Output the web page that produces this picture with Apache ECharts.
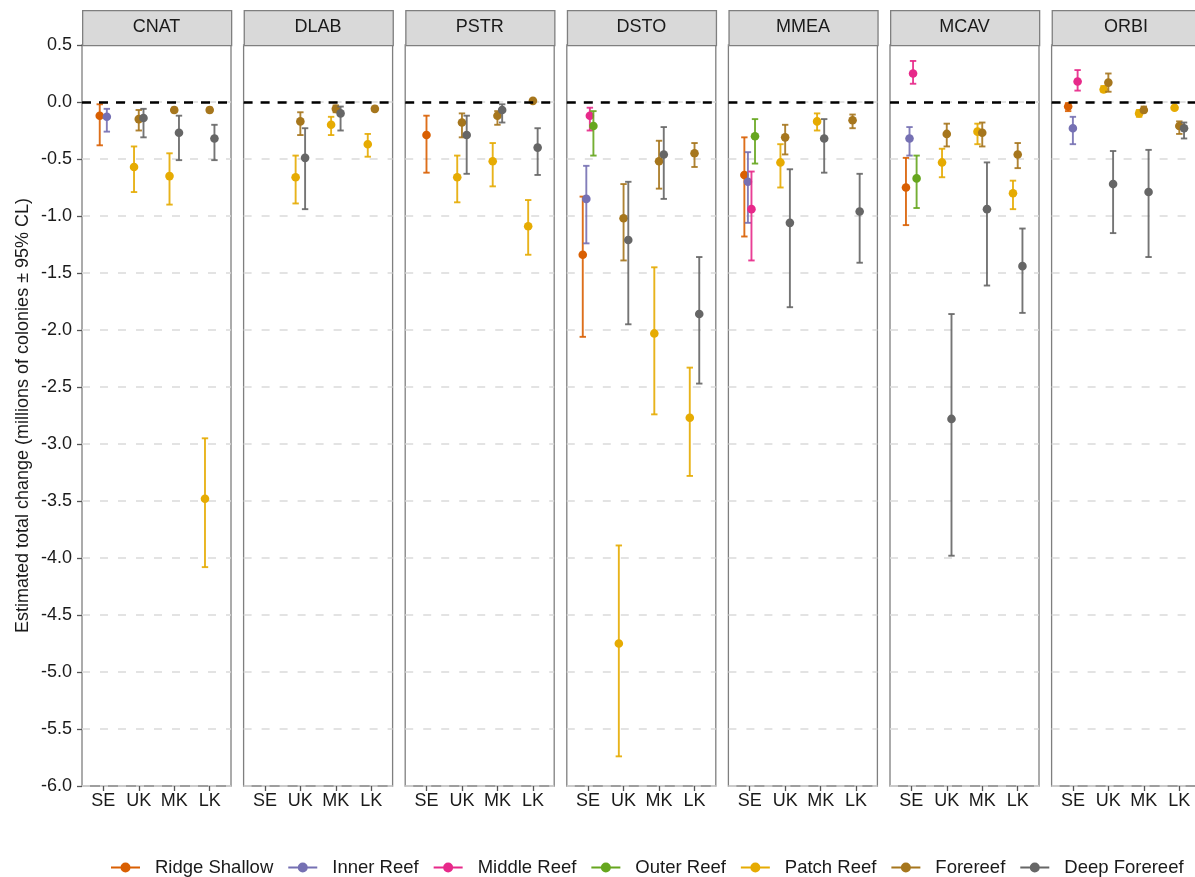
<!DOCTYPE html>
<html>
<head>
<meta charset="utf-8">
<script src="https://cdn.jsdelivr.net/npm/echarts@6/dist/echarts.min.js"></script>
<style>html,body{margin:0;padding:0;background:#fff;}#chart{width:1195px;height:877px;}</style>
</head>
<body>
<div id="chart"></div>
<script>
const sites = ['SE', 'UK', 'MK', 'LK'];
const reefTypes = ['Ridge Shallow', 'Inner Reef', 'Middle Reef', 'Outer Reef', 'Patch Reef', 'Forereef', 'Deep Forereef'];
const reefColors = ['#D95F02', '#7570B3', '#E7298A', '#66A61E', '#E6AB02', '#A6761D', '#666666'];
const species = ['CNAT', 'DLAB', 'PSTR', 'DSTO', 'MMEA', 'MCAV', 'ORBI'];

// [site, reef type, estimate, lower 95% CL, upper 95% CL]
const CNAT = [
  ['SE', 'Ridge Shallow', -0.12, -0.38, -0.02],
  ['SE', 'Inner Reef', -0.13, -0.26, -0.06],
  ['UK', 'Patch Reef', -0.57, -0.79, -0.39],
  ['UK', 'Forereef', -0.15, -0.25, -0.07],
  ['UK', 'Deep Forereef', -0.14, -0.31, -0.06],
  ['MK', 'Patch Reef', -0.65, -0.90, -0.45],
  ['MK', 'Forereef', -0.07, -0.09, -0.05],
  ['MK', 'Deep Forereef', -0.27, -0.51, -0.12],
  ['LK', 'Patch Reef', -3.48, -4.08, -2.95],
  ['LK', 'Forereef', -0.07, -0.09, -0.05],
  ['LK', 'Deep Forereef', -0.32, -0.51, -0.20]
];
const DLAB = [
  ['UK', 'Patch Reef', -0.66, -0.89, -0.47],
  ['UK', 'Forereef', -0.17, -0.29, -0.09],
  ['UK', 'Deep Forereef', -0.49, -0.94, -0.23],
  ['MK', 'Patch Reef', -0.20, -0.29, -0.13],
  ['MK', 'Forereef', -0.06, -0.09, -0.03],
  ['MK', 'Deep Forereef', -0.10, -0.25, -0.04],
  ['LK', 'Patch Reef', -0.37, -0.48, -0.28],
  ['LK', 'Forereef', -0.06, -0.08, -0.04]
];
const PSTR = [
  ['SE', 'Ridge Shallow', -0.29, -0.62, -0.12],
  ['UK', 'Patch Reef', -0.66, -0.88, -0.47],
  ['UK', 'Forereef', -0.18, -0.31, -0.10],
  ['UK', 'Deep Forereef', -0.29, -0.63, -0.12],
  ['MK', 'Patch Reef', -0.52, -0.74, -0.36],
  ['MK', 'Forereef', -0.12, -0.20, -0.08],
  ['MK', 'Deep Forereef', -0.07, -0.18, -0.02],
  ['LK', 'Patch Reef', -1.09, -1.34, -0.86],
  ['LK', 'Forereef', 0.01, 0.00, 0.02],
  ['LK', 'Deep Forereef', -0.40, -0.64, -0.23]
];
const DSTO = [
  ['SE', 'Ridge Shallow', -1.34, -2.06, -0.83],
  ['SE', 'Inner Reef', -0.85, -1.24, -0.56],
  ['SE', 'Middle Reef', -0.12, -0.25, -0.05],
  ['SE', 'Outer Reef', -0.21, -0.47, -0.08],
  ['UK', 'Patch Reef', -4.75, -5.74, -3.89],
  ['UK', 'Forereef', -1.02, -1.39, -0.72],
  ['UK', 'Deep Forereef', -1.21, -1.95, -0.70],
  ['MK', 'Patch Reef', -2.03, -2.74, -1.45],
  ['MK', 'Forereef', -0.52, -0.76, -0.34],
  ['MK', 'Deep Forereef', -0.46, -0.85, -0.22],
  ['LK', 'Patch Reef', -2.77, -3.28, -2.33],
  ['LK', 'Forereef', -0.45, -0.57, -0.36],
  ['LK', 'Deep Forereef', -1.86, -2.47, -1.36]
];
const MMEA = [
  ['SE', 'Ridge Shallow', -0.64, -1.18, -0.31],
  ['SE', 'Inner Reef', -0.70, -1.06, -0.44],
  ['SE', 'Middle Reef', -0.94, -1.39, -0.61],
  ['SE', 'Outer Reef', -0.30, -0.54, -0.15],
  ['UK', 'Patch Reef', -0.53, -0.75, -0.37],
  ['UK', 'Forereef', -0.31, -0.46, -0.20],
  ['UK', 'Deep Forereef', -1.06, -1.80, -0.59],
  ['MK', 'Patch Reef', -0.17, -0.25, -0.10],
  ['MK', 'Deep Forereef', -0.32, -0.62, -0.15],
  ['LK', 'Forereef', -0.16, -0.23, -0.11],
  ['LK', 'Deep Forereef', -0.96, -1.41, -0.63]
];
const MCAV = [
  ['SE', 'Ridge Shallow', -0.75, -1.08, -0.49],
  ['SE', 'Inner Reef', -0.32, -0.47, -0.22],
  ['SE', 'Middle Reef', 0.25, 0.16, 0.36],
  ['SE', 'Outer Reef', -0.67, -0.93, -0.47],
  ['UK', 'Patch Reef', -0.53, -0.66, -0.41],
  ['UK', 'Forereef', -0.28, -0.39, -0.19],
  ['UK', 'Deep Forereef', -2.78, -3.98, -1.86],
  ['MK', 'Patch Reef', -0.26, -0.37, -0.19],
  ['MK', 'Forereef', -0.27, -0.39, -0.18],
  ['MK', 'Deep Forereef', -0.94, -1.61, -0.53],
  ['LK', 'Patch Reef', -0.80, -0.94, -0.69],
  ['LK', 'Forereef', -0.46, -0.58, -0.36],
  ['LK', 'Deep Forereef', -1.44, -1.85, -1.11]
];
const ORBI = [
  ['SE', 'Ridge Shallow', -0.04, -0.08, -0.01],
  ['SE', 'Inner Reef', -0.23, -0.37, -0.13],
  ['SE', 'Middle Reef', 0.18, 0.10, 0.28],
  ['UK', 'Patch Reef', 0.11, 0.09, 0.14],
  ['UK', 'Forereef', 0.17, 0.09, 0.25],
  ['UK', 'Deep Forereef', -0.72, -1.15, -0.43],
  ['MK', 'Patch Reef', -0.10, -0.13, -0.07],
  ['MK', 'Forereef', -0.07, -0.09, -0.04],
  ['MK', 'Deep Forereef', -0.79, -1.36, -0.42],
  ['LK', 'Patch Reef', -0.05, -0.06, -0.04],
  ['LK', 'Forereef', -0.21, -0.28, -0.17],
  ['LK', 'Deep Forereef', -0.23, -0.32, -0.18]
];
const panelData = { CNAT, DLAB, PSTR, DSTO, MMEA, MCAV, ORBI };

// ---- layout ----
const FONT = '"Liberation Sans", Arial, Helvetica, sans-serif';
const P_LEFT = 82, P_STEP = 161.6, P_W = 149, P_TOP = 45, P_H = 741, STRIP_TOP = 10;
const DODGE = 0.4;
const BORDER = '#7F7F7F';

const grids = [], xAxes = [], yAxes = [], series = [], graphics = [];

species.forEach((sp, pi) => {
  const left = P_LEFT + pi * P_STEP;
  grids.push({ left: left, top: P_TOP, width: P_W, height: P_H, show: true,
    borderColor: BORDER, borderWidth: 1.3, backgroundColor: 'transparent',
    containLabel: false, outerBoundsMode: 'none' });
  xAxes.push({
    type: 'value', gridIndex: pi, min: 0.4, max: 4.6, position: 'bottom',
    axisLine: { show: false, onZero: false },
    splitLine: { show: false },
    axisTick: { show: true, customValues: [1, 2, 3, 4], length: 5, lineStyle: { color: '#555', width: 1.3 } },
    axisLabel: { show: true, customValues: [1, 2, 3, 4], margin: 6,
      formatter: v => sites[Math.round(v) - 1] || '',
      fontSize: 18, color: '#1a1a1a', fontFamily: FONT }
  });
  yAxes.push({
    type: 'value', gridIndex: pi, min: -6, max: 0.5, interval: 0.5, position: 'left',
    axisLine: { show: false, onZero: false },
    splitLine: { show: true, lineStyle: { color: '#DADADA', type: [8, 10], width: 1.5 } },
    axisTick: { show: pi === 0, length: 5, lineStyle: { color: '#555', width: 1.3 } },
    axisLabel: { show: pi === 0, margin: 10, formatter: v => v.toFixed(1),
      fontSize: 18, color: '#1a1a1a', fontFamily: FONT },
    name: pi === 0 ? 'Estimated total change (millions of colonies \u00B1 95% CL)' : '',
    nameLocation: 'middle', nameGap: 50, nameRotate: 90,
    nameTextStyle: { fontSize: 18, color: '#1a1a1a', fontFamily: FONT }
  });

  // zero reference line
  series.push({
    type: 'line', xAxisIndex: pi, yAxisIndex: pi, data: [], z: 1, silent: true,
    markLine: { silent: true, symbol: ['none', 'none'], label: { show: false },
      lineStyle: { color: '#000', type: [9, 8], width: 2.5 },
      data: [{ yAxis: 0 }], animation: false }
  });

  // dodge positions
  const rows = panelData[sp];
  const posOf = {};
  sites.forEach((s, si) => {
    const present = reefTypes.filter(t => rows.some(r => r[0] === s && r[1] === t));
    const n = present.length;
    present.forEach((t, k) => {
      posOf[s + '|' + t] = (si + 1) + (k - (n - 1) / 2) * (DODGE / n);
    });
  });

  reefTypes.forEach((t, ti) => {
    const d = rows.filter(r => r[1] === t).map(r => ({ value: [posOf[r[0] + '|' + t], r[2], r[3], r[4]] }));
    if (!d.length) return;
    const col = reefColors[ti];
    series.push({
      type: 'custom', name: t, xAxisIndex: pi, yAxisIndex: pi, z: 3,
      itemStyle: { color: col },
      encode: { x: 0, y: [1, 2, 3] },
      data: d,
      renderItem: (params, api) => {
        const x = api.value(0);
        const pm = api.coord([x, api.value(1)]);
        const pl = api.coord([x, api.value(2)]);
        const ph = api.coord([x, api.value(3)]);
        const cw = 3.2;
        const ls = { stroke: col, lineWidth: 1.9, opacity: 0.9 };
        return {
          type: 'group',
          children: [
            { type: 'line', shape: { x1: pm[0], y1: pl[1], x2: pm[0], y2: ph[1] }, style: ls },
            { type: 'line', shape: { x1: pm[0] - cw, y1: pl[1], x2: pm[0] + cw, y2: pl[1] }, style: ls },
            { type: 'line', shape: { x1: pm[0] - cw, y1: ph[1], x2: pm[0] + cw, y2: ph[1] }, style: ls },
            { type: 'circle', shape: { cx: pm[0], cy: pm[1], r: 4.3 }, style: { fill: col } }
          ]
        };
      }
    });
  });

  // facet strip
  graphics.push({ type: 'rect', left: left, top: STRIP_TOP, z: 10,
    shape: { width: P_W, height: P_TOP - STRIP_TOP },
    style: { fill: '#D9D9D9', stroke: BORDER, lineWidth: 1.3 } });
  graphics.push({ type: 'text', z: 11, x: left + P_W / 2, y: (STRIP_TOP + P_TOP) / 2,
    style: { text: sp, fontSize: 18, fontFamily: FONT, fill: '#1a1a1a', align: 'center', verticalAlign: 'middle' } });
});

const chart = echarts.init(document.getElementById('chart'), null, { renderer: 'canvas' });
chart.setOption({
  backgroundColor: '#fff',
  animation: false,
  textStyle: { fontFamily: FONT },
  grid: grids,
  xAxis: xAxes,
  yAxis: yAxes,
  legend: {
    data: reefTypes,
    left: 106, top: 853,
    itemWidth: 29, itemHeight: 10, itemGap: 15,
    icon: 'path://M0,4.1 L29,4.1 L29,5.9 L0,5.9 Z M14.5,0 A5,5 0 1,1 14.49,0 Z',
    textStyle: { fontSize: 18.5, color: '#1a1a1a', fontFamily: FONT, padding: [0, 0, 0, 10] },
    selectedMode: false
  },
  graphic: graphics,
  series: series
});
</script>
</body>
</html>
